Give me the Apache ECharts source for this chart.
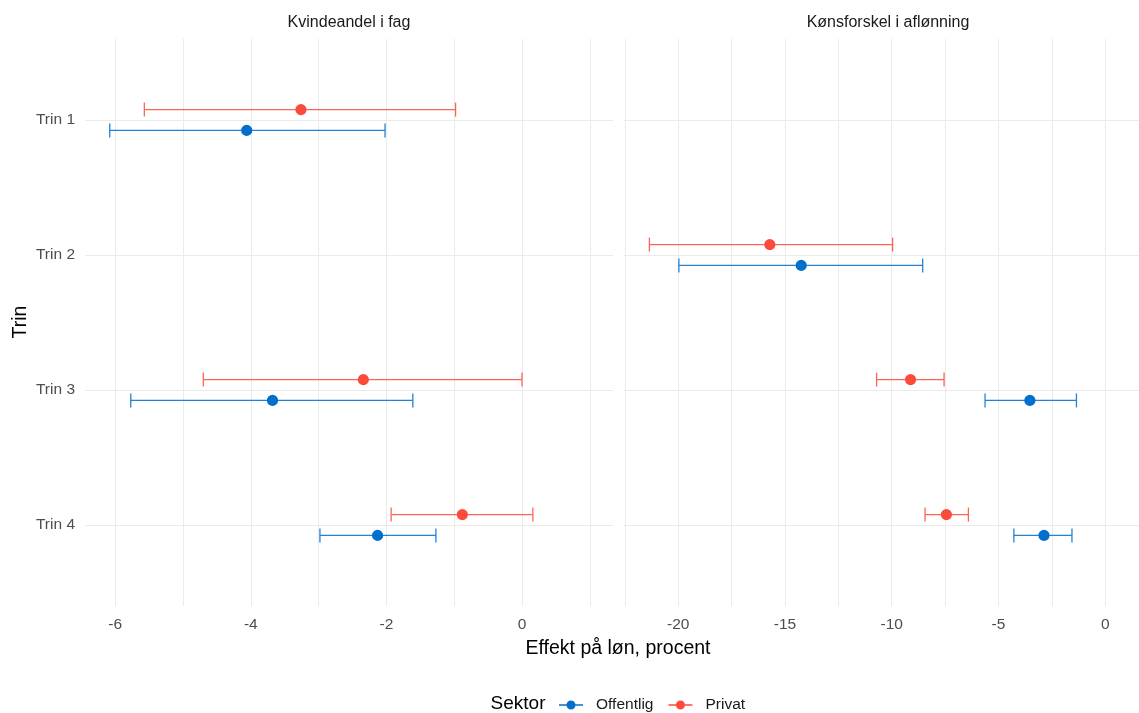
<!DOCTYPE html>
<html>
<head>
<meta charset="utf-8">
<script src="https://cdn.jsdelivr.net/npm/echarts@6/dist/echarts.min.js"></script>
<style>html,body{margin:0;padding:0;background:#fff}#c{width:1139px;height:713px}</style>
</head>
<body>
<div id="c"></div>
<script>
// ---- data ----
const trinLabels = ['Trin 1', 'Trin 2', 'Trin 3', 'Trin 4'];
const panelTitles = ['Kvindeandel i fag', 'Kønsforskel i aflønning'];
const sectors = ['Offentlig', 'Privat'];

// Panel A: Kvindeandel i fag
const offEstA = [-4.06, null, -3.68, -2.13];
const offLoA  = [-6.08, null, -5.77, -2.98];
const offHiA  = [-2.02, null, -1.61, -1.27];
const privEstA = [-3.26, null, -2.34, -0.88];
const privLoA  = [-5.57, null, -4.70, -1.93];
const privHiA  = [-0.98, null, 0.00, 0.16];

// Panel B: Kønsforskel i aflønning
const offEstB = [null, -14.24, -3.53, -2.87];
const offLoB  = [null, -19.97, -5.63, -4.28];
const offHiB  = [null, -8.55, -1.35, -1.56];
const privEstB = [null, -15.71, -9.12, -7.44];
const privLoB  = [null, -21.35, -10.71, -8.44];
const privHiB  = [null, -9.96, -7.55, -6.41];

// tick labels
const xLabelsA = [-6, -4, -2, 0];
const xGridA = [-6, -5, -4, -3, -2, -1, 0, 1];
const xLabelsB = [-20, -15, -10, -5, 0];
const xGridB = [-22.5, -20, -17.5, -15, -12.5, -10, -7.5, -5, -2.5, 0];
const yTicks = [1, 2, 3, 4];

// ---- styling ----
const BLUE = '#0070CC', BLUE_BAR = '#2282D6';
const RED = '#FA4B3B', RED_BAR = '#FB6457';
const DODGE = 0.077;
const FONT = '"Liberation Sans", Arial, sans-serif';

function rows(est, lo, hi) {
  const out = [];
  est.forEach((v, i) => { if (v !== null) out.push([i + 1, v, lo[i], hi[i]]); });
  return out;
}

function makeRender(barColor, ptColor, dir) {
  return function (params, api) {
    const yv = api.value(0);
    const band = api.size([0, 1])[1];
    const off = dir * DODGE * band;
    const pE = api.coord([api.value(1), yv]);
    const pL = api.coord([api.value(2), yv]);
    const pH = api.coord([api.value(3), yv]);
    const y = pE[1] + off;
    const cap = 7;
    const ls = { stroke: barColor, lineWidth: 1.3 };
    return {
      type: 'group',
      children: [
        { type: 'line', shape: { x1: pL[0], y1: y, x2: pH[0], y2: y }, style: ls },
        { type: 'line', shape: { x1: pL[0], y1: y - cap, x2: pL[0], y2: y + cap }, style: ls },
        { type: 'line', shape: { x1: pH[0], y1: y - cap, x2: pH[0], y2: y + cap }, style: ls },
        { type: 'circle', shape: { cx: pE[0], cy: y, r: 5.6 }, style: { fill: ptColor } }
      ]
    };
  };
}

function series(name, gi, est, lo, hi) {
  const isOff = name === 'Offentlig';
  return {
    type: 'custom', name: name, xAxisIndex: gi, yAxisIndex: gi,
    renderItem: makeRender(isOff ? BLUE_BAR : RED_BAR, isOff ? BLUE : RED, isOff ? 1 : -1),
    encode: { x: [1, 2, 3], y: 0 },
    itemStyle: { color: isOff ? BLUE : RED },
    data: rows(est, lo, hi),
    clip: false
  };
}

const gridLine = { show: true, lineStyle: { color: '#EBEBEB', width: 1 } };

function xAxis(gi, min, max, labels, grid) {
  return {
    type: 'value', gridIndex: gi, min: min, max: max,
    axisLine: { show: false },
    axisTick: { show: false, customValues: grid },
    splitLine: gridLine,
    axisLabel: { customValues: labels, color: '#4D4D4D', fontSize: 15.5, fontFamily: FONT, margin: 11 }
  };
}
function yAxis(gi, showLabels) {
  return {
    type: 'value', gridIndex: gi, min: 0.4, max: 4.6, inverse: true,
    axisLine: { show: false },
    axisTick: { show: false, customValues: yTicks },
    splitLine: gridLine,
    axisLabel: {
      show: showLabels, customValues: yTicks, color: '#4D4D4D', fontSize: 15.5, fontFamily: FONT, margin: 10,
      formatter: v => trinLabels[Math.round(v) - 1] || ''
    }
  };
}

const legendIcon = 'path://M0,4.35 L7.6,4.35 L7.6,5.65 L0,5.65 Z M16.4,4.35 L24,4.35 L24,5.65 L16.4,5.65 Z M7.5,5 A4.5,4.5 0 1 1 16.5,5 A4.5,4.5 0 1 1 7.5,5 Z';

const chart = echarts.init(document.getElementById('c'), null, { renderer: 'canvas' });
chart.setOption({
  animation: false,
  backgroundColor: '#fff',
  grid: [
    { left: 85, top: 39, width: 528, height: 567 },
    { left: 624, top: 39, right: 0, height: 567 }
  ],
  xAxis: [
    xAxis(0, -6.445, 1.342, xLabelsA, xGridA),
    xAxis(1, -22.54, 1.58, xLabelsB, xGridB)
  ],
  yAxis: [yAxis(0, true), yAxis(1, false)],
  legend: {
    left: 554, top: 692,
    itemWidth: 24, itemHeight: 10, itemGap: 15,
    textStyle: { fontSize: 15.5, color: '#1A1A1A', fontFamily: FONT, padding: [0, 0, 0, 8] },
    data: sectors.map((s, i) => ({ name: s, icon: legendIcon, itemStyle: { color: i === 0 ? BLUE : RED } }))
  },
  graphic: [
    { type: 'text', x: 349, y: 23, style: { text: panelTitles[0], textAlign: 'center', textVerticalAlign: 'middle', fontSize: 16, fill: '#1A1A1A', fontFamily: FONT } },
    { type: 'text', x: 888, y: 23, style: { text: panelTitles[1], textAlign: 'center', textVerticalAlign: 'middle', fontSize: 16, fill: '#1A1A1A', fontFamily: FONT } },
    { type: 'text', x: 618, y: 649, style: { text: 'Effekt på løn, procent', textAlign: 'center', textVerticalAlign: 'middle', fontSize: 19.5, fill: '#000', fontFamily: FONT } },
    { type: 'text', x: 21, y: 322, rotation: Math.PI / 2, style: { text: 'Trin', textAlign: 'center', textVerticalAlign: 'middle', fontSize: 19.5, fill: '#000', fontFamily: FONT } },
    { type: 'text', x: 518, y: 704, style: { text: 'Sektor', textAlign: 'center', textVerticalAlign: 'middle', fontSize: 19, fill: '#000', fontFamily: FONT } }
  ],
  series: [
    series('Offentlig', 0, offEstA, offLoA, offHiA),
    series('Privat', 0, privEstA, privLoA, privHiA),
    series('Offentlig', 1, offEstB, offLoB, offHiB),
    series('Privat', 1, privEstB, privLoB, privHiB)
  ]
});
</script>
</body>
</html>
